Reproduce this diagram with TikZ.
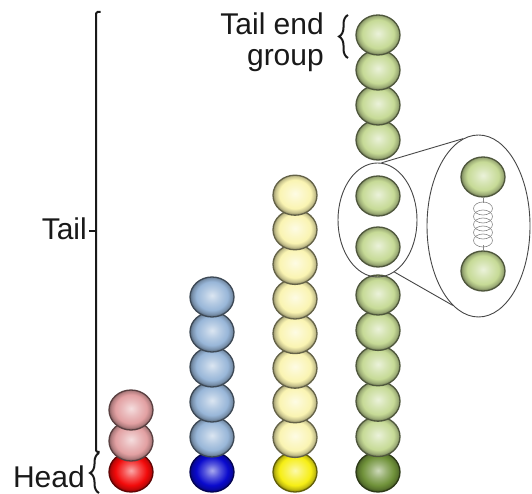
\documentclass[tikz,border=0pt]{standalone}
\usepackage{fontspec}
\setmainfont{Liberation Sans}
\usetikzlibrary{shapes.geometric,decorations.pathreplacing}

\definecolor{textgrau}{RGB}{25,25,25}
\definecolor{lupe}{RGB}{70,70,70}
\definecolor{feder}{RGB}{135,135,135}
\definecolor{rosa}{RGB}{226,160,162}
\definecolor{rot}{RGB}{242,10,10}
\definecolor{hellblau}{RGB}{152,182,216}
\definecolor{blau}{RGB}{10,10,205}
\definecolor{hellgelb}{RGB}{250,244,178}
\definecolor{gelb}{RGB}{246,238,20}
\definecolor{hellgruen}{RGB}{198,218,150}
\definecolor{gruen}{RGB}{112,146,58}

% Kugelschattierung, Farbe kommt aus kugelfarbe
\colorlet{kugelfarbe}{rosa}
\pgfdeclareradialshading[kugelfarbe]{kugel}{\pgfpoint{0bp}{2bp}}{%
  color(0bp)=(kugelfarbe!35!white);
  color(9bp)=(kugelfarbe!70!white);
  color(18bp)=(kugelfarbe);
  color(22.5bp)=(kugelfarbe!80!black);
  color(25bp)=(kugelfarbe!60!black);
  color(50bp)=(kugelfarbe!60!black)}

\tikzset{
  kugel/.style={ellipse, minimum width=44pt, minimum height=40pt, inner sep=0pt,
    line width=1.3pt, /utils/exec={\colorlet{kugelfarbe}{#1}},
    shade, shading=kugel, draw=#1!40!black},
  beschriftung/.style={font=\fontsize{30}{31}\selectfont, text=textgrau, inner sep=0pt},
  klammer/.style={line width=2pt, textgrau},
  windung/.style={feder, line width=0.6pt}
}

\begin{document}
\begin{tikzpicture}[x=1pt, y=1pt]
  \useasboundingbox (0,0) rectangle (532,494);

  % Klammer Schwanz
  \draw[klammer, rounded corners=1.5pt]
    (100.5,482) --
    (96,482) --
    (96,42) --
    (99.5,42);
  \draw[klammer] (96,263) -- (89,263);
  \node[beschriftung, anchor=base east] (tail) at (87,254) {Tail};

  % Klammer Kopf
  \draw[klammer, decorate, decoration={brace, amplitude=9pt}]
    (99,1) -- (99,41);
  \node[beschriftung, anchor=base east] (head) at (85,6) {Head};

  % Klammer Endgruppe
  \draw[klammer, decorate, decoration={brace, amplitude=9pt}]
    (348,436) -- (348,479);
  \node[beschriftung, align=right, anchor=north east] (endgruppe) at (324,481) {Tail end\\group};

  % rote Kette
  \node[kugel=rot]  (r0) at (131,22) {};
  \node[kugel=rosa] (r1) at (131,53) {};
  \node[kugel=rosa] (r2) at (131,84) {};

  % blaue Kette
  \node[kugel=blau]     (b0) at (212,22) {};
  \node[kugel=hellblau] (b1) at (212,57) {};
  \node[kugel=hellblau] (b2) at (212,92) {};
  \node[kugel=hellblau] (b3) at (212,127) {};
  \node[kugel=hellblau] (b4) at (212,162) {};
  \node[kugel=hellblau] (b5) at (212,197) {};

  % gelbe Kette
  \node[kugel=gelb]     (y0) at (295,22) {};
  \node[kugel=hellgelb] (y1) at (295,56.6) {};
  \node[kugel=hellgelb] (y2) at (295,91.2) {};
  \node[kugel=hellgelb] (y3) at (295,125.8) {};
  \node[kugel=hellgelb] (y4) at (295,160.4) {};
  \node[kugel=hellgelb] (y5) at (295,195) {};
  \node[kugel=hellgelb] (y6) at (295,229.6) {};
  \node[kugel=hellgelb] (y7) at (295,264.2) {};
  \node[kugel=hellgelb] (y8) at (295,298.8) {};

  % gruene Kette
  \node[kugel=gruen]     (g0) at (378,22) {};
  \node[kugel=hellgruen] (g1) at (378,57.4) {};
  \node[kugel=hellgruen] (g2) at (378,92.8) {};
  \node[kugel=hellgruen] (g3) at (378,128.2) {};
  \node[kugel=hellgruen] (g4) at (378,163.6) {};
  \node[kugel=hellgruen] (g5) at (378,199) {};
  \node[kugel=hellgruen] (g6) at (378,247) {};
  \node[kugel=hellgruen] (g7) at (378,298) {};
  \node[kugel=hellgruen] (g8) at (378,354) {};
  \node[kugel=hellgruen] (g9) at (378,389) {};
  \node[kugel=hellgruen] (g10) at (378,424) {};
  \node[kugel=hellgruen] (g11) at (378,459) {};

  % Lupe
  \node[ellipse, draw=lupe, line width=0.9pt, minimum width=79pt, minimum height=114pt] (klein) at (377.5,274) {};
  \node[ellipse, draw=lupe, fill=white, line width=0.9pt, minimum width=103pt, minimum height=182pt] (gross) at (478.5,268) {};
  \draw[lupe, line width=0.9pt] (klein.86) -- (gross.100);
  \draw[lupe, line width=0.9pt] (klein.288) -- (gross.252);

  % vergroesserte Kugeln mit Feder
  \node[kugel=hellgruen] (z1) at (483,317) {};
  \node[kugel=hellgruen] (z2) at (483,223) {};
  \draw[windung] (z1.south) -- ++(0,-5);
  \draw[windung] (z2.north) -- ++(0,5);
  \draw[windung] (483,285.5) ellipse [x radius=9.5pt, y radius=6.5pt];
  \draw[windung] (483,277.5) ellipse [x radius=9.5pt, y radius=6.5pt];
  \draw[windung] (483,269.5) ellipse [x radius=9.5pt, y radius=6.5pt];
  \draw[windung] (483,261.5) ellipse [x radius=9.5pt, y radius=6.5pt];
  \draw[windung] (483,253.5) ellipse [x radius=9.5pt, y radius=6.5pt];

\end{tikzpicture}
\end{document}
